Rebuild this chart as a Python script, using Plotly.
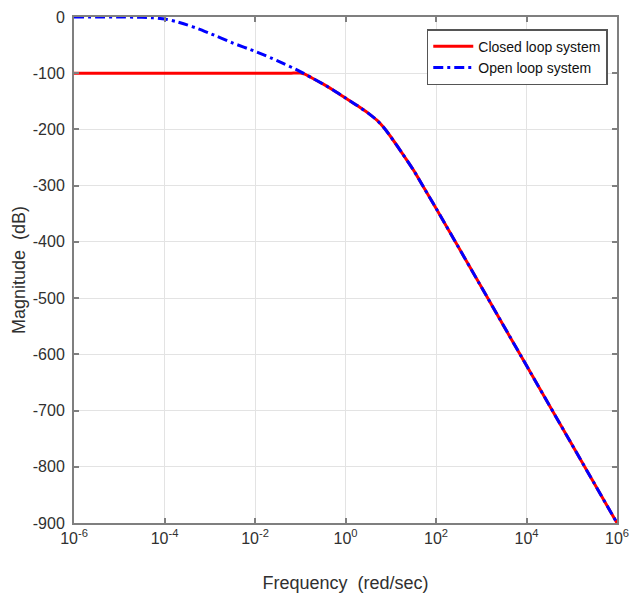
import plotly.graph_objects as go

# ---- data (frequency exponents, magnitudes in dB) ----
open_exp = [-6, -5, -4.5, -4.25, -4, -3.75, -3.5, -3.25, -3, -2.5, -2, -1.5, -1,
            -0.75, -0.5, -0.25, 0, 0.25, 0.5, 0.7, 0.85, 1.0, 1.25, 1.5, 1.75, 2, 3, 4, 5, 6]
open_db = [0, 0, -0.5, -1.5, -3.5, -8, -14, -21, -29, -46, -61, -78, -97,
           -108, -119, -131, -144, -157, -171, -184, -197, -213, -242, -272, -306, -340,
           -480, -620, -760, -900]

closed_exp = [-6, -5, -4, -3, -2, -1.5, -1.2, -1.1, -1.0, -0.9, -0.75, -0.5, -0.25, 0,
              0.25, 0.5, 0.7, 0.85, 1.0, 1.25, 1.5, 1.75, 2, 3, 4, 5, 6]
closed_db = [-100, -100, -100, -100, -100, -100, -100, -99.5, -99.5, -101.5, -108, -119, -131, -144,
             -157, -171, -184, -197, -213, -242, -272, -306, -340, -480, -620, -760, -900]

xtick_exp = [-6, -4, -2, 0, 2, 4, 6]
ytick_vals = [0, -100, -200, -300, -400, -500, -600, -700, -800, -900]

open_f = [10 ** e for e in open_exp]
closed_f = [10 ** e for e in closed_exp]
xtick_vals = [10 ** e for e in xtick_exp]
xtick_text = [f"10<sup>{e}</sup>" for e in xtick_exp]
ytick_text = [str(v) for v in ytick_vals]

FONT = "Liberation Sans, Arial, sans-serif"
TXT = "#303030"
AX = "#7f7f7f"

fig = go.Figure()
fig.add_trace(go.Scatter(x=closed_f, y=closed_db, mode="lines", name="Closed loop system",
                         line=dict(color="#ff0000", width=3, shape="spline", smoothing=0.5)))
fig.add_trace(go.Scatter(x=open_f, y=open_db, mode="lines", name="Open loop system",
                         line=dict(color="#0000ff", width=3, dash="10px,4px,3px,4px",
                                   shape="spline", smoothing=0.5)))

fig.update_layout(
    width=631, height=597,
    margin=dict(l=74, r=14, t=17, b=74, autoexpand=False),
    paper_bgcolor="white", plot_bgcolor="white",
    font=dict(family=FONT, size=16, color=TXT),
    showlegend=True,
    legend=dict(x=0.983, y=0.976, xanchor="right", yanchor="top",
                bgcolor="white", bordercolor="#555555", borderwidth=1.5,
                font=dict(size=14, color="#111111"),
                tracegroupgap=0, itemwidth=40),
)

fig.update_xaxes(
    type="log", range=[-6, 6], automargin=False,
    tickvals=xtick_vals, ticktext=xtick_text,
    showgrid=True, gridcolor="#e3e3e3", gridwidth=1,
    showline=True, linecolor=AX, linewidth=2, mirror="allticks",
    ticks="inside", ticklen=5, tickcolor=AX, tickwidth=1.5,
    tickfont=dict(size=16, color=TXT),
    title=dict(text="Frequency  (red/sec)", font=dict(size=18, color=TXT), standoff=30),
    zeroline=False,
)
fig.update_yaxes(
    range=[-900, 0], automargin=False,
    tickvals=ytick_vals, ticktext=ytick_text,
    showgrid=True, gridcolor="#e3e3e3", gridwidth=1,
    showline=True, linecolor=AX, linewidth=2, mirror="allticks",
    ticks="inside", ticklen=5, tickcolor=AX, tickwidth=1.5,
    tickfont=dict(size=16, color=TXT),
    ticklabelstandoff=4,
    title=dict(text="Magnitude  (dB)", font=dict(size=18, color=TXT), standoff=2),
    zeroline=False,
)

fig.write_html("out.html")
